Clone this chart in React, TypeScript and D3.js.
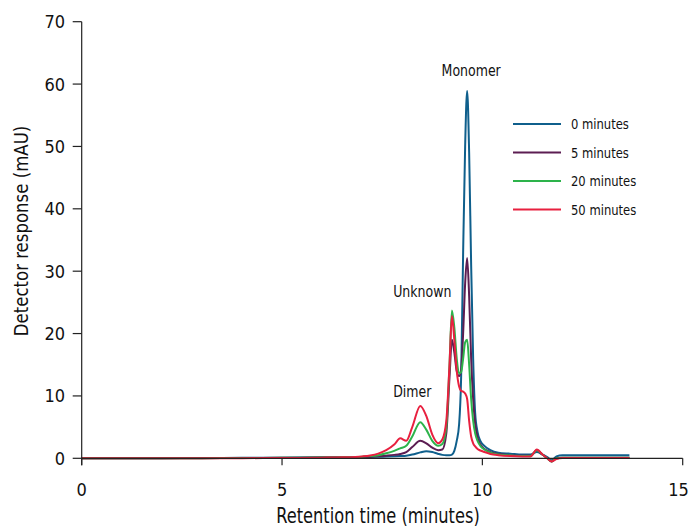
import React from "react";
import * as d3 from "d3";

const times = [0, 1, 2, 3, 4, 5, 6, 6.5, 7, 7.2, 7.4, 7.6, 7.8, 7.95, 8.1, 8.25, 8.45, 8.6, 8.75, 8.9, 9.0, 9.1, 9.18, 9.24, 9.3, 9.36, 9.42, 9.47, 9.52, 9.57, 9.62, 9.67, 9.72, 9.77, 9.82, 9.88, 9.95, 10.05, 10.2, 10.4, 10.7, 11.0, 11.2, 11.36, 11.5, 11.62, 11.73, 11.85, 12.0, 12.5, 13.0, 13.67];

const min0 = [0, 0, 0.02, 0.05, 0.08, 0.1, 0.15, 0.18, 0.2, 0.22, 0.25, 0.28, 0.32, 0.36, 0.42, 0.6, 0.95, 1.15, 1.0, 0.7, 0.55, 0.5, 0.5, 0.6, 1.2, 2.8, 5.5, 13, 33, 50, 58.9, 49, 31, 16, 7.3, 4.2, 2.8, 2.0, 1.3, 0.9, 0.75, 0.6, 0.6, 1.0, 0.6, 0.2, -0.3, 0.3, 0.5, 0.5, 0.5, 0.5];

const min5 = [0, 0, 0, 0.02, 0.05, 0.08, 0.12, 0.15, 0.2, 0.25, 0.32, 0.42, 0.55, 0.7, 1.0, 1.8, 2.8, 2.4, 1.7, 1.3, 1.4, 4, 13, 19.0, 17, 14, 13.2, 14.2, 20, 28, 32.1, 26, 16, 9.5, 5.5, 3.3, 2.2, 1.5, 1.0, 0.7, 0.5, 0.4, 0.4, 1.3, 0.6, 0.0, -0.5, 0.0, 0.1, 0.1, 0.1, 0.1];

const min20 = [0, 0, 0, 0.02, 0.05, 0.08, 0.12, 0.15, 0.25, 0.35, 0.5, 0.8, 1.2, 1.6, 2.0, 3.5, 5.8, 4.6, 2.8, 2.0, 2.3, 5, 15, 23.7, 21, 16, 13.6, 13.8, 16, 18.6, 19.0, 15, 9.5, 6, 4, 2.8, 2.0, 1.4, 0.9, 0.6, 0.45, 0.35, 0.35, 1.3, 0.6, 0.0, -0.5, 0.0, 0.1, 0.1, 0.1, 0.1];

const min50 = [0, 0, 0, 0, 0.02, 0.05, 0.1, 0.15, 0.3, 0.45, 0.75, 1.3, 2.2, 3.2, 2.8, 5.0, 8.4, 6.8, 3.8, 2.4, 3.0, 6, 15, 22.8, 19, 14, 11.5, 10.8, 10.7, 10.4, 9.5, 6, 3.5, 2.4, 1.9, 1.5, 1.25, 1.0, 0.7, 0.5, 0.35, 0.3, 0.3, 1.4, 0.6, 0.0, -0.5, -0.1, 0.05, 0.05, 0.05, 0.05];

const seriesNames = ["0 minutes", "5 minutes", "20 minutes", "50 minutes"];
const seriesColors = ["#0f5f8c", "#5c1d52", "#2db34b", "#e8203f"];
const seriesValues = [min0, min5, min20, min50];

const xTicks = [0, 5, 10, 15];
const yTicks = [0, 10, 20, 30, 40, 50, 60, 70];

const annotations = [
  { label: "Monomer", t: 9.72, v: 61.3 },
  { label: "Unknown", t: 8.5, v: 25.8 },
  { label: "Dimer", t: 8.25, v: 9.8 },
];

const W = 689;
const H = 530;
const FONT = "'Liberation Sans Narrow', 'DejaVu Sans Condensed', 'Roboto', sans-serif";

function CText({ x, y, sx = 1, rotate = 0, anchor = "start", size, children }: any) {
  return (
    <g transform={`translate(${x}, ${y}) rotate(${rotate}) scale(${sx}, 1)`}>
      <text x={0} y={0} textAnchor={anchor} fontSize={size} fill="#111">
        {children}
      </text>
    </g>
  );
}

export default function App() {
  const x = d3.scaleLinear().domain([0, 15]).range([81.7, 682.7]);
  const y = d3.scaleLinear().domain([0, 70]).range([458.3, 21.7]);
  const line = d3
    .line<number>()
    .x((_, i) => x(times[i]))
    .y((d) => y(d))
    .curve(d3.curveMonotoneX);

  const legendX = 513;
  const legendY = 124;
  const legendStep = 28.5;

  return (
    <svg
      width={W}
      height={H}
      style={{ position: "absolute", left: 0, top: 0, display: "block", background: "#fff" }}
      fontFamily={FONT}
    >
      {seriesValues.map((vals, si) => (
        <path
          key={si}
          d={line(vals) || ""}
          fill="none"
          stroke={seriesColors[si]}
          strokeWidth={2}
          strokeLinejoin="round"
        />
      ))}

      <line x1={x(0)} x2={x(15)} y1={y(0)} y2={y(0)} stroke="#222" strokeWidth={1.2} />
      <line x1={x(0)} x2={x(0)} y1={y(70)} y2={y(0) + 7} stroke="#222" strokeWidth={1.2} />
      {xTicks.map((t) => (
        <g key={t}>
          <line x1={x(t)} x2={x(t)} y1={y(0)} y2={y(0) + 7} stroke="#222" strokeWidth={1.2} />
          <CText x={Math.min(x(t), 678.5)} y={496} anchor="middle" size={18}>
            {t}
          </CText>
        </g>
      ))}
      {yTicks.map((v) => (
        <g key={v}>
          <line x1={x(0) - 9} x2={x(0)} y1={y(v)} y2={y(v)} stroke="#222" strokeWidth={1.2} />
          <CText x={65} y={y(v) + 6.5} anchor="end" size={18}>
            {v}
          </CText>
        </g>
      ))}

      <CText x={378} y={523} anchor="middle" size={22} sx={0.82}>
        Retention time (minutes)
      </CText>
      <CText x={28} y={231} anchor="middle" size={19} rotate={-90} sx={0.97}>
        Detector response (mAU)
      </CText>

      {annotations.map((a) => (
        <CText key={a.label} x={x(a.t)} y={y(a.v)} anchor="middle" size={15} sx={0.93}>
          {a.label}
        </CText>
      ))}

      {seriesNames.map((n, i) => (
        <g key={n}>
          <line
            x1={legendX}
            x2={legendX + 48}
            y1={legendY + i * legendStep}
            y2={legendY + i * legendStep}
            stroke={seriesColors[i]}
            strokeWidth={2}
          />
          <CText x={legendX + 58} y={legendY + i * legendStep + 5} size={14} sx={0.92}>
            {n}
          </CText>
        </g>
      ))}
    </svg>
  );
}
